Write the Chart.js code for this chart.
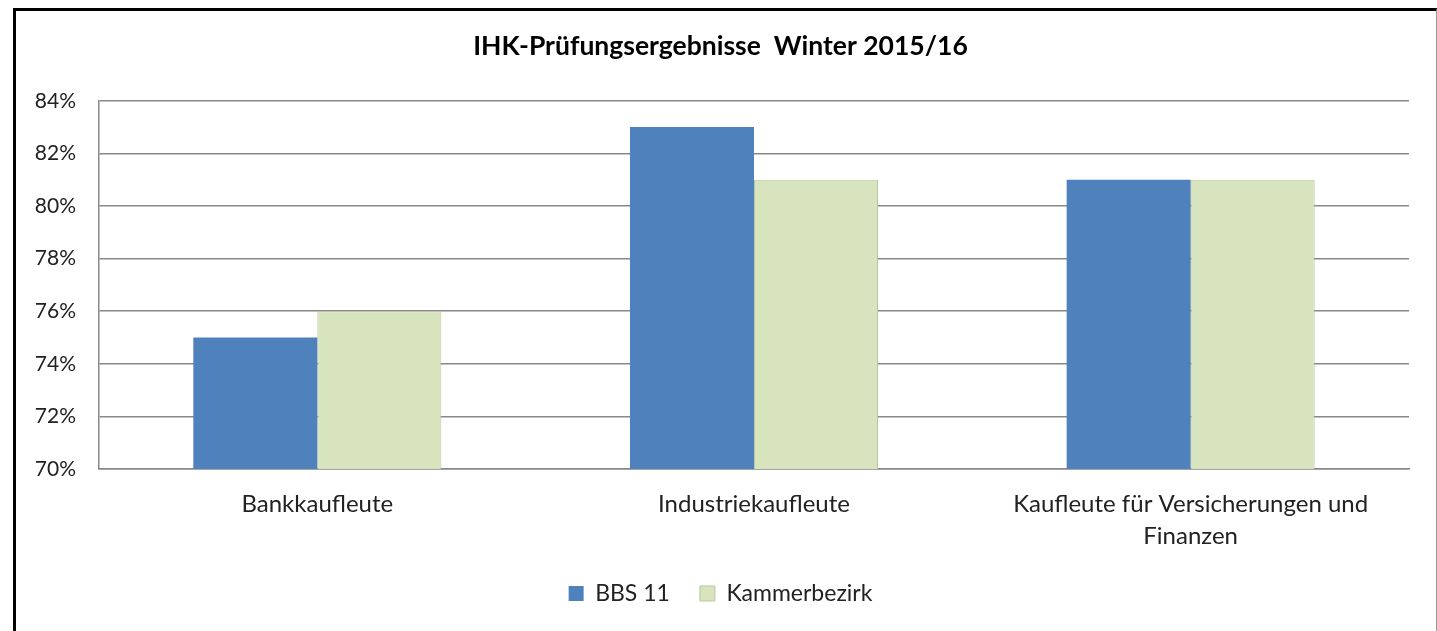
<!DOCTYPE html>
<html>
<head>
<meta charset="utf-8">
<script src="https://cdn.jsdelivr.net/npm/chart.js@4"></script>
<style>
    html, body { margin: 0; padding: 0; background: #fff; overflow: hidden; }
    #frame {
        position: absolute;
        left: 13px;
        top: 8px;
        width: 1420px;
        height: 640px;
        border-left: 3px solid #000;
        border-top: 3px solid #000;
        border-right: 1px solid #9a9a9a;
    }
    #wrap { width: 1420px; height: 620px; }
</style>
</head>
<body>
<div id="frame"><div id="wrap"><canvas id="chart"></canvas></div></div>
<script>
const categories = ['Bankkaufleute', 'Industriekaufleute', ['Kaufleute für Versicherungen und', 'Finanzen']];
const bbs11 = [75, 83, 81];
const kammerbezirk = [76, 81, 81];
const seriesNames = ['BBS 11', 'Kammerbezirk'];
const chartTitle = 'IHK-Prüfungsergebnisse  Winter 2015/16';

const fontFamily = 'Lato, "Open Sans", sans-serif';
const ctx = document.getElementById('chart');

new Chart(ctx, {
    type: 'bar',
    data: {
        labels: categories,
        datasets: [{
            label: seriesNames[0],
            data: bbs11,
            backgroundColor: '#4F81BD',
            borderWidth: 0
        }, {
            label: seriesNames[1],
            data: kammerbezirk,
            backgroundColor: '#D7E4BD',
            borderColor: '#B9C79F',
            borderWidth: 1
        }]
    },
    options: {
        responsive: true,
        maintainAspectRatio: false,
        animation: false,
        layout: {
            padding: { left: 16, right: 27, top: 0, bottom: 16 }
        },
        datasets: {
            bar: {
                barPercentage: 1,
                categoryPercentage: 0.568
            }
        },
        scales: {
            x: {
                afterFit: function (scale) { scale.height = 83; },
                grid: { display: false, drawTicks: false },
                border: { display: true, color: '#888', width: 1.5 },
                ticks: {
                    color: '#222',
                    padding: 19,
                    maxRotation: 0,
                    font: { family: fontFamily, size: 24, lineHeight: 1.333 }
                }
            },
            y: {
                min: 70,
                max: 84,
                afterFit: function (scale) { scale.width = 67; },
                grid: { color: '#888', lineWidth: 1.5, drawTicks: false },
                border: { display: true, color: '#888', width: 1.5 },
                ticks: {
                    stepSize: 2,
                    color: '#222',
                    padding: 23,
                    font: { family: fontFamily, size: 21 },
                    callback: function (value) {
                        return `${value}%`
                    }
                }
            }
        },
        plugins: {
            title: {
                display: true,
                text: chartTitle,
                color: '#000',
                font: { family: fontFamily, size: 26.5, weight: 'bold' },
                padding: { top: 20, bottom: 38 }
            },
            legend: {
                position: 'bottom',
                labels: {
                    color: '#222',
                    boxWidth: 15,
                    boxHeight: 15,
                    padding: 30,
                    font: { family: fontFamily, size: 23 }
                }
            },
            tooltip: { enabled: false }
        }
    }
});
</script>
</body>
</html>
